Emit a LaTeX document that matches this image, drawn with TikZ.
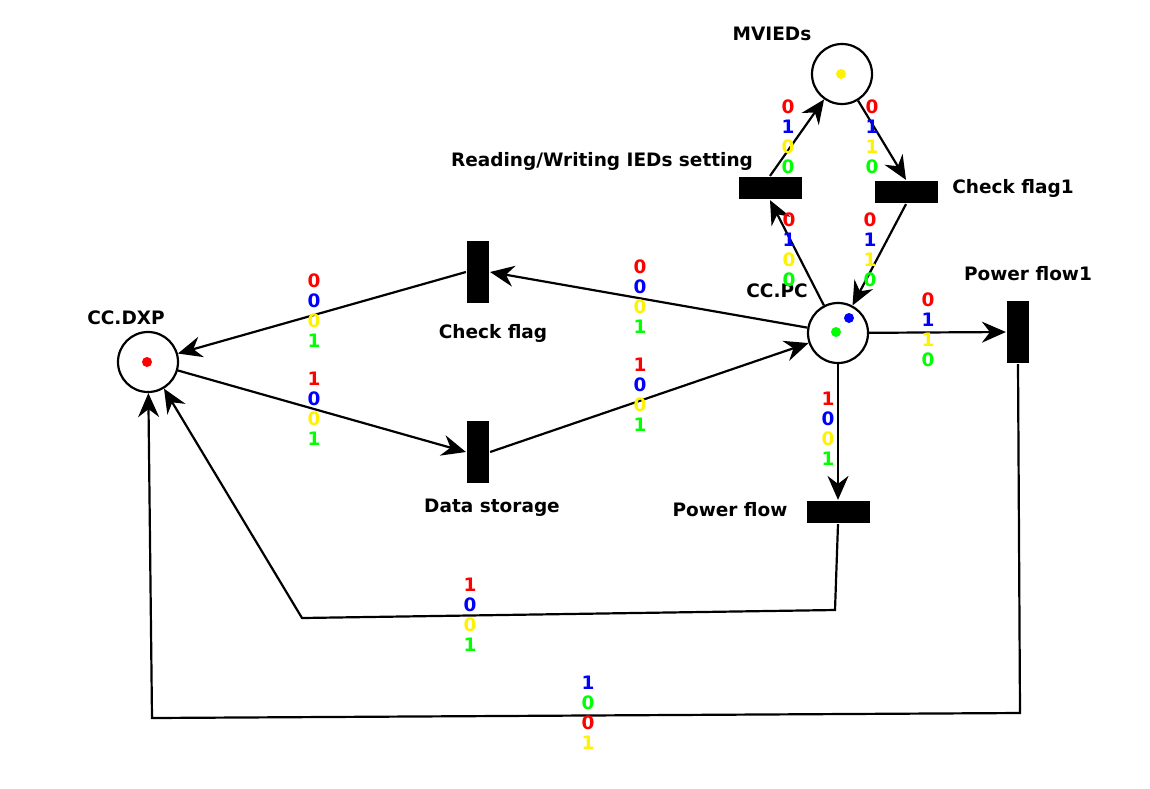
\documentclass[tikz,border=0pt]{standalone}
\usepackage{fontspec}
\setmainfont{DejaVu Sans}
\usetikzlibrary{arrows.meta}
\begin{document}
\begin{tikzpicture}[x=1pt,y=-1pt,
  line width=2.2pt,
  place/.style={draw,circle,minimum size=60pt,inner sep=0pt,line width=2.2pt},
  vbar/.style={fill=black,draw=none,minimum width=22pt,minimum height=62pt,inner sep=0pt},
  hbar/.style={fill=black,draw=none,minimum width=63pt,minimum height=22pt,inner sep=0pt},
  lbl/.style={font=\fontsize{18.5}{22}\selectfont\bfseries,inner sep=0pt,anchor=base},
  wt/.style={font=\fontsize{18.5}{20}\selectfont\bfseries,inner sep=0pt,align=center},
  tok/.style={circle,inner sep=0pt,minimum size=10pt,draw=none},
  arc/.style={-{Stealth[length=24pt,width=21pt,inset=8pt]},line width=2.2pt}]
\useasboundingbox (0,0) rectangle (1150,788);
% places
\node[place] (mv) at (842,74) {};
\node[place] (pc) at (838,333) {};
\node[place] (dxp) at (148,362) {};
% tokens
\node[tok,fill=yellow] (tmv) at (841,74) {};
\node[tok,fill=blue] (tpc1) at (849,318) {};
\node[tok,fill=green] (tpc2) at (836,332) {};
\node[tok,fill=red] (tdxp) at (147,362) {};
% transitions
\node[hbar] (rw) at (770,188) {};
\node[hbar] (cf1) at (906,192) {};
\node[vbar] (cf) at (478,272) {};
\node[vbar] (ds) at (478,452) {};
\node[vbar] (pf1) at (1018,332) {};
\node[hbar] (pf) at (838,512) {};
% labels
\node[lbl] (lmv) at (772,40) {MVIEDs};
\node[lbl] (lrw) at (602,166) {Reading/Writing IEDs setting};
\node[lbl] (lcf1) at (1013,193) {Check flag1};
\node[lbl] (lpc) at (777,297) {CC.PC};
\node[lbl] (lpf1) at (1028,280) {Power flow1};
\node[lbl] (ldxp) at (126,324) {CC.DXP};
\node[lbl] (lcf) at (493,338) {Check flag};
\node[lbl] (lds) at (492,512) {Data storage};
\node[lbl] (lpf) at (730,516) {Power flow};
% corner coordinates
\coordinate (a1) at (835,610);
\coordinate (a2) at (302,618);
\coordinate (b1) at (1020,713);
\coordinate (b2) at (152,718);
% arcs
\draw[arc] (rw.north) -- (mv);
\draw[arc] (mv) -- (cf1.north);
\draw[arc] (pc) -- (rw.south);
\draw[arc] (cf1.south) -- (pc);
\draw[arc] (pc) -- (cf.east);
\draw[arc] (ds.east) -- (pc);
\draw[arc] (cf.west) -- (dxp);
\draw[arc] (dxp) -- (ds.west);
\draw[arc] (pc) -- (pf1.west);
\draw[arc] (pc) -- (pf.north);
\draw[arc] (pf.south) -- (a1) -- (a2) -- (dxp);
\draw[arc] (pf1.south) -- (b1) -- (b2) -- (dxp);
% weights
\node[wt] (w1) at (788,137) {\color{red}0\\\color{blue}1\\\color{yellow}0\\\color{green}0};
\node[wt] (w2) at (872,137) {\color{red}0\\\color{blue}1\\\color{yellow}1\\\color{green}0};
\node[wt] (w3) at (789,250) {\color{red}0\\\color{blue}1\\\color{yellow}0\\\color{green}0};
\node[wt] (w4) at (870,250) {\color{red}0\\\color{blue}1\\\color{yellow}1\\\color{green}0};
\node[wt] (w5) at (928,330) {\color{red}0\\\color{blue}1\\\color{yellow}1\\\color{green}0};
\node[wt] (w6) at (640,297) {\color{red}0\\\color{blue}0\\\color{yellow}0\\\color{green}1};
\node[wt] (w7) at (640,395) {\color{red}1\\\color{blue}0\\\color{yellow}0\\\color{green}1};
\node[wt] (w8) at (314,311) {\color{red}0\\\color{blue}0\\\color{yellow}0\\\color{green}1};
\node[wt] (w9) at (314,409) {\color{red}1\\\color{blue}0\\\color{yellow}0\\\color{green}1};
\node[wt] (w10) at (828,429) {\color{red}1\\\color{blue}0\\\color{yellow}0\\\color{green}1};
\node[wt] (w11) at (470,615) {\color{red}1\\\color{blue}0\\\color{yellow}0\\\color{green}1};
\node[wt] (w12) at (588,713) {\color{blue}1\\\color{green}0\\\color{red}0\\\color{yellow}1};
\end{tikzpicture}
\end{document}
